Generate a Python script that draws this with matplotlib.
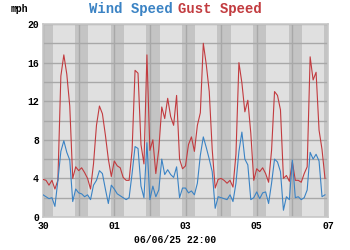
import numpy as np
import pandas as pd
import matplotlib
matplotlib.use("Agg")
import matplotlib.pyplot as plt
import matplotlib.dates as mdates

# 2-hourly readings, 30 May 00:00 -> 06 Jun 22:00
start = "2025-05-30 00:00"
wind_speed = [2.3, 2.1, 1.9, 2.0, 1.1, 3.8, 6.8, 7.9, 6.7, 5.9,
              1.6, 2.9, 2.5, 2.4, 2.1, 2.3, 1.8, 3.3, 3.8, 4.8,
              4.5, 2.9, 1.4, 3.3, 2.9, 2.4, 2.2, 2.0, 1.8, 2.0,
              4.5, 7.3, 7.1, 3.2, 2.0, 7.7, 1.8, 3.2, 2.1, 2.8,
              6.0, 4.4, 4.9, 4.4, 4.1, 5.2, 2.0, 3.0, 3.0, 2.5,
              2.7, 2.3, 3.5, 6.4, 8.3, 7.2, 6.0, 4.7, 0.9, 2.1,
              2.0, 1.9, 1.8, 2.3, 1.6, 3.5, 6.8, 8.8, 6.0, 5.4,
              1.8, 2.0, 2.6, 1.9, 2.5, 2.6, 1.4, 3.5, 6.0, 5.7,
              4.7, 0.7, 2.1, 1.8, 5.9, 2.0, 2.1, 1.8, 2.0, 2.8,
              6.7, 6.0, 6.5, 5.8, 2.1, 2.3]
gust_speed = [3.9, 3.8, 3.3, 3.8, 2.9, 3.8, 14.6, 16.8, 14.8, 11.5,
              4.0, 5.2, 4.8, 5.1, 4.6, 4.0, 2.9, 5.5, 9.5, 11.5,
              10.7, 8.5, 6.0, 4.2, 5.8, 5.3, 5.1, 4.1, 3.8, 3.8,
              6.9, 15.2, 14.9, 7.5, 5.5, 16.8, 6.9, 8.0, 4.5, 7.0,
              11.4, 10.2, 12.3, 10.4, 9.5, 12.6, 6.0, 5.0, 5.3, 7.5,
              8.3, 6.8, 9.5, 10.8, 18.0, 15.8, 13.0, 7.0, 3.0, 3.9,
              4.0, 3.8, 3.5, 3.8, 3.1, 6.5, 16.0, 13.9, 10.9, 12.1,
              8.7, 3.8, 5.0, 4.7, 5.1, 4.5, 3.6, 6.9, 13.0, 12.6,
              11.1, 4.0, 4.3, 3.7, 5.7, 3.8, 3.8, 3.6, 4.5, 5.2,
              16.6, 14.2, 15.0, 9.0, 7.0, 4.0]
day_labels = ["30", "01", "03", "05", "07"]
stamp = "06/06/25 22:00"

times = pd.date_range(start, periods=len(wind_speed), freq="2h")
days = pd.date_range("2025-05-30", "2025-06-07", freq="D")

blue = "#3b83c4"
red = "#c23b3f"
mono = "Liberation Mono"

fig = plt.figure(figsize=(3.5, 2.5), dpi=100)
ax = fig.add_axes([0.123, 0.132, 0.814, 0.772])
ax.set_facecolor("#e0e0e0")

# night shading
for d in days:
    ax.axvspan(d - pd.Timedelta(hours=2.5), d + pd.Timedelta(hours=6.5),
               color="#c4c4c4", lw=0, zorder=0)

ax.plot(times, gust_speed, color=red, lw=0.8, zorder=3)
ax.plot(times, wind_speed, color=blue, lw=0.8, zorder=4)

ax.set_xlim(days[0], days[-1])
ax.set_ylim(0, 20)
ax.set_yticks(range(0, 21, 4))
ax.set_yticks(range(0, 21, 2), minor=True)
ax.xaxis.set_major_locator(mdates.DayLocator(bymonthday=[30, 1, 3, 5, 7]))
ax.xaxis.set_minor_locator(mdates.DayLocator())
ax.set_xticklabels(day_labels)
ax.grid(True, which="both", color="#a8a8a8", lw=1, zorder=1)
ax.set_axisbelow(True)
ax.tick_params(which="both", length=0, labelsize=7, pad=3)
for lab in ax.get_xticklabels() + ax.get_yticklabels():
    lab.set_fontfamily(mono)
    lab.set_fontweight("bold")
for s in ax.spines.values():
    s.set_color("#c8c8c8")
    s.set_linewidth(1.2)

fig.text(0.03, 0.965, "mph", fontsize=7, family=mono, fontweight="bold", va="center")
fig.text(0.493, 0.965, "Wind Speed", color=blue, fontsize=10, family=mono,
         fontweight="bold", ha="right", va="center")
fig.text(0.508, 0.965, "Gust Speed", color=red, fontsize=10, family=mono,
         fontweight="bold", ha="left", va="center")
fig.text(0.5, 0.04, stamp, fontsize=7, family=mono, fontweight="bold",
         ha="center", va="center")

fig.savefig("out.png", dpi=100)
